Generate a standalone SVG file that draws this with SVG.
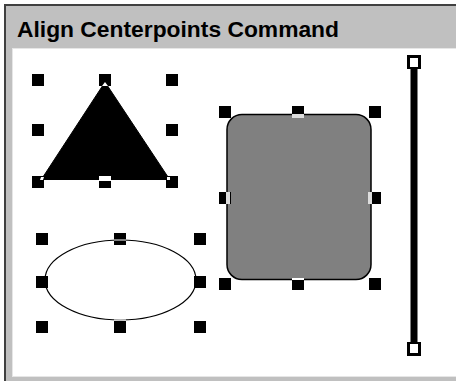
<svg xmlns="http://www.w3.org/2000/svg" width="456" height="381" viewBox="0 0 456 381">
<style>
.h{fill:#000}
.x{fill:#fff}
.t{font-family:"Liberation Sans",Arial,sans-serif;font-weight:bold;font-size:22px;fill:#000}
</style>
<rect width="456" height="381" fill="#fff"/>
<g id="frame">
<rect x="4" y="4" width="452" height="377" fill="#c0c0c0"/>
<rect x="4" y="4" width="452" height="2" fill="#404040"/>
<rect x="4" y="4" width="2" height="377" fill="#404040"/>
<rect x="12" y="48" width="444" height="329" fill="#e6e6e6"/>
<rect x="13" y="49" width="443" height="327" fill="#fff"/>
<text class="t" x="17" y="37" textLength="322" lengthAdjust="spacingAndGlyphs">Align Centerpoints Command</text>
</g>
<g id="triangle">
<polygon points="105,82 41,180 170,180" fill="#000" stroke="#000" stroke-width="1"/>
<rect class="h" x="32" y="74" width="12" height="12"/>
<rect class="h" x="99" y="74" width="12" height="12"/>
<rect class="h" x="166" y="74" width="12" height="12"/>
<rect class="h" x="32" y="124" width="12" height="12"/>
<rect class="h" x="166" y="124" width="12" height="12"/>
<rect class="h" x="32" y="176" width="12" height="12"/>
<rect class="h" x="99" y="176" width="12" height="12"/>
<rect class="h" x="166" y="176" width="12" height="12"/>
<polygon class="x" points="105,82 102,86 108,86"/>
<rect class="x" x="99" y="176" width="12" height="4"/>
<polygon class="x" points="41,177 44,177 43,180 40,180"/>
<polygon class="x" points="167,177 170,177 170,180 167,180"/>
<line x1="44" y1="180.5" x2="166" y2="180.5" stroke="#fff" stroke-width="1"/>
</g>
<g id="roundrect">
<rect x="227" y="114.5" width="144" height="165" rx="15" ry="15" fill="#808080" stroke="#000" stroke-width="1.5"/>
<rect class="h" x="219" y="106" width="12" height="12"/>
<rect class="h" x="292" y="106" width="12" height="12"/>
<rect class="h" x="369" y="106" width="12" height="12"/>
<rect class="h" x="219" y="192" width="12" height="12"/>
<rect class="h" x="369" y="192" width="12" height="12"/>
<rect class="h" x="219" y="278" width="12" height="12"/>
<rect class="h" x="292" y="278" width="12" height="12"/>
<rect class="h" x="369" y="278" width="12" height="12"/>
<rect x="292" y="114" width="12" height="4" fill="#ddd"/>
<rect x="226" y="192" width="4" height="12" fill="#ddd"/>
<rect x="368" y="192" width="4" height="12" fill="#ddd"/>
<rect x="292" y="278" width="12" height="2" fill="#fff"/>
</g>
<g id="ellipse">
<ellipse cx="120.5" cy="280" rx="75.5" ry="40" fill="#fff" stroke="#000" stroke-width="1.2"/>
<rect class="h" x="36" y="233" width="12" height="12"/>
<rect class="h" x="114" y="233" width="12" height="12"/>
<rect class="h" x="194" y="233" width="12" height="12"/>
<rect class="h" x="36" y="276" width="12" height="12"/>
<rect class="h" x="194" y="276" width="12" height="12"/>
<rect class="h" x="36" y="321" width="12" height="12"/>
<rect class="h" x="114" y="321" width="12" height="12"/>
<rect class="h" x="194" y="321" width="12" height="12"/>
<line x1="114" y1="240" x2="126" y2="240" stroke="#fff" stroke-width="1"/>
<line x1="114" y1="320" x2="126" y2="320" stroke="#fff" stroke-width="1"/>
</g>
<g id="line">
<line x1="414" y1="62" x2="414" y2="348" stroke="#000" stroke-width="7"/>
<rect class="h" x="407" y="55" width="14" height="14"/>
<rect class="x" x="410" y="58" width="8" height="9"/>
<rect class="h" x="407" y="342" width="14" height="14"/>
<rect class="x" x="410" y="344" width="8" height="9"/>
</g>
</svg>
